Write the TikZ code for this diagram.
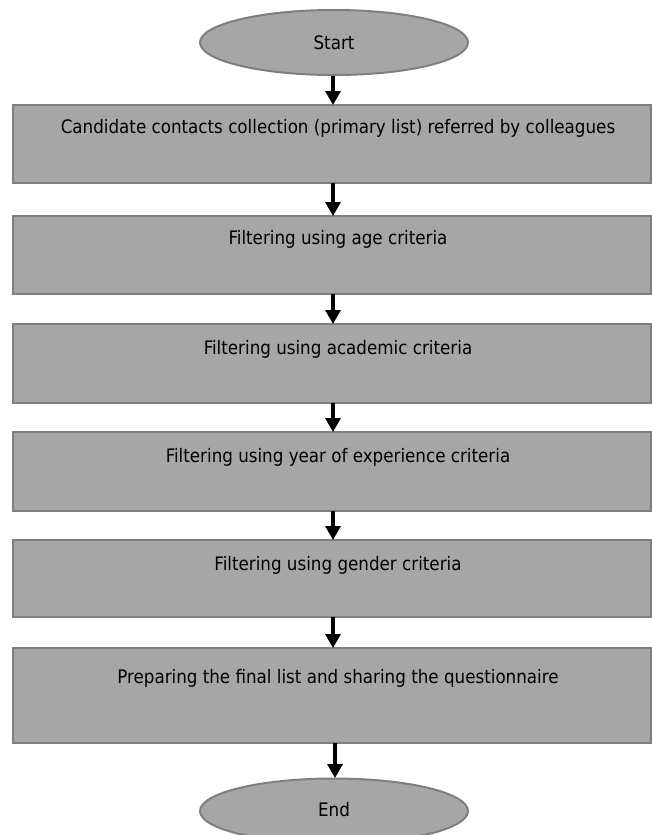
\documentclass[tikz,border=0pt]{standalone}
\usepackage{fontspec}
\setmainfont{DejaVu Sans Condensed}
\usetikzlibrary{shapes.geometric,arrows.meta}
\definecolor{boxfill}{HTML}{A6A6A6}
\definecolor{boxline}{HTML}{7F7F7F}
\begin{document}
\begin{tikzpicture}[x=1pt,y=-1pt,
  stepbox/.style={draw=boxline,line width=2.2pt,fill=boxfill},
  term/.style={ellipse,draw=boxline,line width=2pt,fill=boxfill,minimum width=268pt,minimum height=65pt,inner sep=0pt,font=\fontsize{18.6}{22}\selectfont},
  lbl/.style={font=\fontsize{18.6}{22}\selectfont,inner sep=0pt},
  flow/.style={line width=3.2pt,-{Triangle[width=15pt,length=14pt]}}]
\useasboundingbox (0,0) rectangle (652,835);
\begin{scope}
\clip (0,0) rectangle (652,835);
\node[term] (start) at (334,42.5) {Start};
\node[term] (end) at (334,811) {};
\node[lbl] at (334,810) {End};
\end{scope}
\path[stepbox] (13,105) rectangle (651,183);
\path[stepbox] (13,216) rectangle (651,294);
\path[stepbox] (13,324) rectangle (651,403);
\path[stepbox] (13,432) rectangle (651,511);
\path[stepbox] (13,540) rectangle (651,617);
\path[stepbox] (13,648) rectangle (651,743);
\coordinate (b1t) at (333,105); \coordinate (b1b) at (333,183);
\coordinate (b2t) at (333,216); \coordinate (b2b) at (333,294);
\coordinate (b3t) at (333,324); \coordinate (b3b) at (333,403);
\coordinate (b4t) at (333,432); \coordinate (b4b) at (333,511);
\coordinate (b5t) at (333,540); \coordinate (b5b) at (333,617);
\coordinate (b6t) at (333,648); \coordinate (b6b) at (335,743);
\coordinate (et) at (335,778);
\node[lbl] (t1) at (338,128) {Candidate contacts collection (primary list) referred by colleagues};
\node[lbl] (t2) at (338,239) {Filtering using age criteria};
\node[lbl] (t3) at (338,349) {Filtering using academic criteria};
\node[lbl] (t4) at (338,457) {Filtering using year of experience criteria};
\node[lbl] (t5) at (338,565) {Filtering using gender criteria};
\node[lbl] (t6) at (338,678) {Preparing the final list and sharing the questionnaire};
\draw[flow] (start.south -| b1t) -- (b1t);
\draw[flow] (b1b) -- (b2t);
\draw[flow] (b2b) -- (b3t);
\draw[flow] (b3b) -- (b4t);
\draw[flow] (b4b) -- (b5t);
\draw[flow] (b5b) -- (b6t);
\draw[flow] (b6b) -- (et);
\end{tikzpicture}
\end{document}
